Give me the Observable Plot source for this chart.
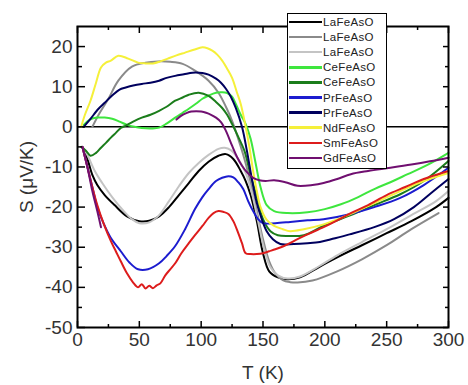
<!DOCTYPE html>
<html><head><meta charset="utf-8">
<script src="https://cdn.jsdelivr.net/npm/d3@7"></script>
<script src="https://cdn.jsdelivr.net/npm/@observablehq/plot@0.6"></script>
<style>
html,body{margin:0;padding:0;background:#fff;}
#wrap{position:relative;width:468px;height:385px;font-family:"Liberation Sans",Arial,sans-serif;}
#legend{position:absolute;left:287px;top:13px;width:100px;height:156px;border:1px solid #000;background:#fff;box-sizing:border-box;}
.row{position:absolute;left:0;height:14px;display:flex;align-items:center;}
.sw{width:33px;height:2.5px;margin-left:1px;}
.lb{font-size:11.5px;color:#222;margin-left:1px;letter-spacing:0.3px;white-space:nowrap;}
</style></head><body><div id="wrap"></div>
<script>
// ---- data ----
const seriesNames = ["LaFeAsO","LaFeAsO","LaFeAsO","CeFeAsO","CeFeAsO","PrFeAsO","PrFeAsO","NdFeAsO","SmFeAsO","GdFeAsO"];
const seriesColors = ["#000000","#8a8a8a","#c4c4c4","#3ee63e","#1b7d1b","#1c1ccf","#00005e","#f5f03a","#dd1c1c","#700f70"];

const t1 = [4, 8, 12, 16, 22, 30, 40, 50, 58, 66, 74, 82, 90, 98, 106, 114, 120, 126, 132, 136, 140, 145, 150, 155, 162, 170, 180, 195, 210, 230, 250, 270, 290, 300];
const s1 = [-5, -8, -12, -14.5, -17, -19.5, -22.3, -23.5, -23.4, -22.3, -20, -17, -14, -11, -8.7, -7.2, -6.8, -8, -11, -13.5, -17, -23.5, -31.5, -36, -37.5, -38, -37.5, -35, -32.5, -29.5, -26.5, -23.5, -20, -17.7];

const t2 = [12, 18, 25, 33, 44, 55, 65, 75, 85, 95, 106, 114, 120, 125, 130, 135, 140, 145, 150, 155, 160, 166, 172, 178, 190, 210, 230, 250, 270, 292];
const s2 = [0, 3.5, 7, 11.5, 15, 16, 16.3, 16.2, 15.7, 14, 11.5, 8.5, 5, 1.5, -3, -8, -14, -21, -28, -33.5, -36.5, -38.2, -38.7, -38.8, -38.3, -36, -33, -29.5, -25.5, -21.5];

const t3 = [4, 8, 14, 20, 28, 36, 44, 50, 58, 66, 74, 82, 90, 98, 106, 114, 119, 124, 130, 136, 141, 146, 151, 156, 162, 170, 180, 195, 210, 230, 250, 270, 290, 300];
const s3 = [-5, -7, -11, -14, -17.5, -20.5, -23, -24, -23.8, -22, -18.5, -14.8, -11.5, -9, -7, -5.5, -5.2, -5.8, -8, -11.5, -16.5, -23.5, -30.5, -35, -37, -37.8, -37.3, -34.8, -32, -28.7, -25.5, -22, -18.5, -16];

const t4 = [5, 10, 16, 22, 28, 34, 40, 46, 52, 60, 66, 72, 79, 85, 90, 96, 101, 106, 112, 117, 121, 125, 128, 132, 136, 140, 144, 148, 153, 159, 170, 186, 200, 213, 227, 240, 253, 267, 283, 300];
const s4 = [0.5, 1.8, 2.3, 2.3, 2, 1.3, 0.5, 0, -0.3, -0.4, -0.2, 0.8, 2.3, 3.5, 4.5, 5.8, 7, 7.8, 8.5, 8.6, 8.4, 7.5, 5.7, 3, 0.7, -3, -9, -15, -19.5, -21, -21.5, -21.3, -20.5, -19.3, -17.5, -15.5, -13.8, -11.8, -9.5, -6.5];

const t5 = [3, 7, 10.5, 15, 19, 23, 27, 31, 35, 39, 45, 52, 59, 66, 72, 79, 85, 90, 98, 106, 112, 117, 121, 125, 130, 135, 140, 145, 150, 156, 162, 170, 183, 200, 221, 240, 261, 280, 300];
const s5 = [-5, -6, -7.2, -6.5, -5.2, -4, -2.7, -1.5, -0.3, 0.3, 1.3, 2.3, 3, 4, 5, 6.5, 7.3, 8, 8.5, 7.7, 6.2, 4.7, 3, 0.7, -2.5, -6, -12, -17.5, -23, -26, -27, -27.2, -27, -24.5, -22, -19.5, -16.8, -13.5, -8.5];

const t6 = [4, 8, 12, 16, 21, 27, 35, 42, 49, 57, 66, 72, 79, 87, 95, 101, 106, 112, 117, 122, 126, 130, 134, 138, 142, 146, 150, 160, 172, 186, 199, 221, 240, 261, 280, 300];
const s6 = [-5, -10, -15, -20, -24, -27.7, -31, -33.8, -35.5, -35.5, -34, -32.2, -29.7, -25.5, -20.5, -17.5, -15.5, -13.5, -12.7, -12.3, -12.6, -13.8, -15.5, -18.5, -21, -23, -24, -24, -23.7, -23.3, -23, -21.7, -20, -17.7, -14.5, -10.2];

const t7 = [5, 10, 17, 22, 28, 34, 39, 45, 52, 59, 66, 72, 79, 86, 93, 101, 106, 112, 116, 120, 124, 128, 133, 137, 141, 145, 149, 153, 158, 164, 175, 186, 196, 205, 220, 240, 256, 272, 286, 300];
const s7 = [0, 1.8, 4.5, 6, 7.8, 9.3, 9.8, 10.3, 10.7, 11, 11.5, 12.2, 12.7, 13.1, 13.5, 13.4, 13, 12, 11, 9.5, 7.5, 4.7, 0, -6, -13, -19, -23, -26, -28, -29.2, -29.2, -29, -28.7, -28, -26.8, -25, -23, -20, -16.5, -13];

const t8 = [3, 6, 10.5, 15, 19, 23, 27, 33, 41, 49, 55, 61, 67, 73, 80, 87, 94, 101, 105, 109, 113, 117, 121, 125, 129, 132, 136, 139, 142, 145, 148, 153, 159, 166, 172, 183, 199, 221, 240, 261, 280, 300];
const s8 = [0, 3, 6.5, 11, 14.8, 16, 16.5, 17.7, 17, 16, 15.8, 15.8, 16.3, 17, 17.8, 18.5, 19.2, 19.8, 19.6, 19, 18, 16.5, 14.5, 12.2, 8.5, 5.7, 0, -5, -11, -16, -20, -23.2, -24.7, -25.5, -26, -25.5, -24.3, -21.7, -19, -16, -13.5, -11.5];

const t9 = [4, 8, 12, 16, 21, 27, 31, 35, 40, 45, 49, 52, 55, 58, 61, 64, 67, 71, 75, 79, 84, 90, 95, 101, 106, 110, 114, 118, 122, 126, 130, 133, 136, 140, 145, 150, 155, 160, 167, 176, 186, 199, 210, 221, 235, 250, 265, 280, 300];
const s9 = [-5, -10, -15, -19.5, -24, -28.5, -31, -33.5, -36.5, -38.8, -40, -39.2, -40.3, -39.6, -40.2, -39.5, -39, -37, -35.5, -34, -31.5, -29, -27, -24.7, -22.7, -21.5, -21, -21.2, -21.7, -23.5, -26.5, -29, -31.5, -31.7, -31.7, -31.5, -31, -30.5, -29.7, -28.3, -26.8, -25, -23.3, -21.5, -19.5, -17, -15, -13, -11];

const t10 = [4, 8, 12, 16, 19, 50, 80, 84, 88, 92, 96, 100, 104, 108, 112, 116, 120, 125, 129, 133, 137, 142, 147, 152, 159, 168, 178, 190, 199, 210, 221, 235, 253, 270, 285, 300];
const s10 = [-5, -10, -16, -21, -25, null, 1.8, 2.8, 3.4, 3.8, 3.9, 3.8, 3.5, 3, 2.3, 1.2, -1, -4.7, -7.5, -9.7, -11.3, -12.7, -13.3, -13.5, -13.3, -13.8, -14.7, -14.5, -14, -13, -11.8, -11, -10.2, -9.4, -8.6, -7.7];

const xMajor = [0, 50, 100, 150, 200, 250, 300];
const xMinor = [25, 75, 125, 175, 225, 275];
const yMajor = [-50, -40, -30, -20, -10, 0, 10, 20];
const yMinor = [-45, -35, -25, -15, -5, 5, 15];

// ---- build ----
const Ts = [t1,t2,t3,t4,t5,t6,t7,t8,t9,t10];
const Ss = [s1,s2,s3,s4,s5,s6,s7,s8,s9,s10];
const series = Ts.map((t, k) => t.map((T, i) => ({T, S: Ss[k][i]})));

const W = 468, H = 385, mL = 77, mR = 20, mT = 26, mB = 58;
const xDomain = [0, 300], yDomain = [-50, 25];
const pxX = (xDomain[1] - xDomain[0]) / (W - mL - mR);
const pxY = (yDomain[1] - yDomain[0]) / (H - mT - mB);
const tickStyle = {stroke: "#000", strokeWidth: 1.5};

const marks = [
  Plot.ruleY([0], {stroke: "#000", strokeWidth: 1.5}),
  ...series.map((d, k) => Plot.line(d, {x: "T", y: "S", stroke: seriesColors[k], strokeWidth: 2, curve: "catmull-rom"})),
  // inward ticks: left / right
  Plot.ruleY(yMajor, {y: d => d, x1: xDomain[0], x2: xDomain[0] + 8 * pxX, ...tickStyle}),
  Plot.ruleY(yMinor, {y: d => d, x1: xDomain[0], x2: xDomain[0] + 5 * pxX, ...tickStyle}),
  Plot.ruleY(yMajor, {y: d => d, x1: xDomain[1] - 5 * pxX, x2: xDomain[1], ...tickStyle}),
  Plot.ruleY(yMinor, {y: d => d, x1: xDomain[1] - 3 * pxX, x2: xDomain[1], ...tickStyle}),
  // bottom / top
  Plot.ruleX(xMajor, {x: d => d, y1: yDomain[0], y2: yDomain[0] + 6 * pxY, ...tickStyle}),
  Plot.ruleX(xMinor, {x: d => d, y1: yDomain[0], y2: yDomain[0] + 3 * pxY, ...tickStyle}),
  Plot.ruleX(xMajor, {x: d => d, y1: yDomain[1] - 7 * pxY, y2: yDomain[1], ...tickStyle}),
  Plot.ruleX(xMinor, {x: d => d, y1: yDomain[1] - 4 * pxY, y2: yDomain[1], ...tickStyle}),
  Plot.frame({stroke: "#000", strokeWidth: 2}),
  Plot.axisX({ticks: xMajor, tickSize: 0, tickPadding: 5, tickFormat: d => String(d), fill: "#333",
              label: "T (K)", labelAnchor: "center", labelOffset: 51, labelArrow: "none"}),
  Plot.axisY({ticks: yMajor, tickSize: 0, tickPadding: 5, tickFormat: d => String(d), fill: "#333",
              label: "S (μV/K)", labelAnchor: "center", labelOffset: 58, labelArrow: "none"})
];

const chart = Plot.plot({
  width: W, height: H,
  marginLeft: mL, marginRight: mR, marginTop: mT, marginBottom: mB,
  x: {domain: xDomain},
  y: {domain: yDomain},
  style: {fontFamily: "Liberation Sans, Arial, sans-serif", fontSize: "19px", background: "white", color: "#333", overflow: "visible"},
  marks
});

const wrap = document.getElementById("wrap");
wrap.appendChild(chart);

// legend
const lg = document.createElement("div");
lg.id = "legend";
seriesNames.forEach((name, k) => {
  const row = document.createElement("div");
  row.className = "row";
  row.style.top = (1 + 15.1 * k) + "px";
  const sw = document.createElement("div");
  sw.className = "sw";
  sw.style.background = seriesColors[k];
  const lb = document.createElement("span");
  lb.className = "lb";
  lb.textContent = name;
  row.appendChild(sw); row.appendChild(lb);
  lg.appendChild(row);
});
wrap.appendChild(lg);
</script></body></html>
